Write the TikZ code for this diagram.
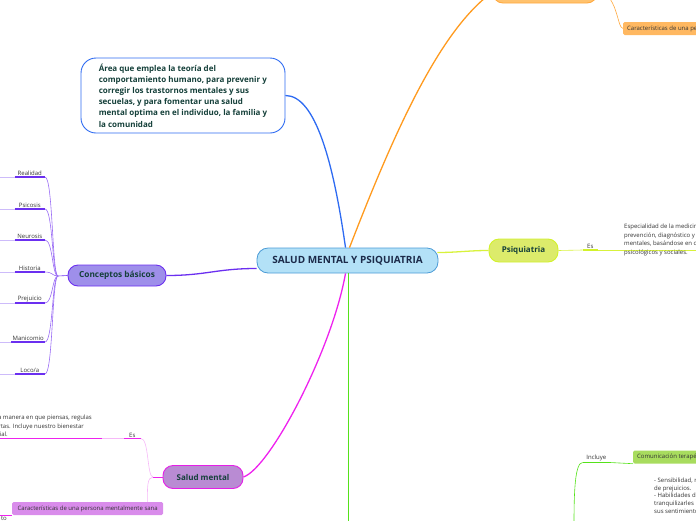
\documentclass[tikz,border=0pt]{standalone}
\usepackage{fontspec}
\setmainfont{Open Sans}
\usetikzlibrary{positioning,calc}
\definecolor{rootfill}{HTML}{B3E1F7}
\definecolor{rootline}{HTML}{4B9BD6}
\definecolor{rootink}{HTML}{1C2B4A}
\definecolor{topicink}{HTML}{15403A}
\definecolor{leafgray}{HTML}{333333}
\definecolor{defblue}{HTML}{2E6BF2}
\definecolor{orline}{HTML}{FF9A1E}
\definecolor{orfill}{HTML}{FFC26E}
\definecolor{orbord}{HTML}{FFA940}
\definecolor{ortag}{HTML}{FFB861}
\definecolor{ygline}{HTML}{D8F23C}
\definecolor{psifill}{HTML}{DCEB6B}
\definecolor{psiline}{HTML}{D2F22A}
\definecolor{purline}{HTML}{6B2FF0}
\definecolor{concfill}{HTML}{9E8FEA}
\definecolor{leafpur}{HTML}{9A6CF5}
\definecolor{stubpur}{HTML}{CDBBFA}
\definecolor{magline}{HTML}{EE22EE}
\definecolor{smfill}{HTML}{B98BD3}
\definecolor{smline}{HTML}{E41FE6}
\definecolor{smtag}{HTML}{D98CEB}
\definecolor{stubpink}{HTML}{F6B8F8}
\definecolor{grline}{HTML}{55E21A}
\definecolor{grtag}{HTML}{A8DC5E}

\begin{document}
\begin{tikzpicture}[
  x=1pt, y=-1pt,
  font=\fontsize{6}{7.5}\selectfont,
  every node/.style={text=leafgray},
  rootbox/.style={rectangle, rounded corners=11pt, draw=rootline, fill=rootfill, line width=0.8pt, minimum width=181pt, minimum height=25pt, font=\fontsize{10}{12}\selectfont\bfseries, text=rootink},
  topic/.style={rectangle, rounded corners=10pt, line width=0.9pt, minimum height=22pt, font=\fontsize{8}{10}\selectfont\bfseries, text=topicink},
  leaf/.style={inner sep=1pt, anchor=south east},
  tag/.style={rectangle, rounded corners=1.5pt, minimum height=13pt, inner xsep=4pt, anchor=west},
  branch/.style={line width=1.3pt},
  twig/.style={line width=0.6pt},
  uline/.style={line width=1.2pt}
]
\useasboundingbox (0,0) rectangle (696,520);
\clip (0,0) rectangle (696,520);
\coordinate (lm) at (0,0);
\coordinate (rm) at (700,0);

% Centre
\node[rootbox] (root) at (347.5,260.5) {SALUD MENTAL Y PSIQUIATRIA};

% Definition (blue)
\node[draw=defblue, line width=0.9pt, rounded corners=15pt, fill=white, minimum width=204pt, minimum height=75pt,
      align=left, font=\fontsize{8}{11.2}\selectfont\bfseries, text=topicink] (area) at (183,95.5)
  {Área que emplea la teoría del\\comportamiento humano, para prevenir y\\corregir los trastornos mentales y sus\\secuelas, y para fomentar una salud\\mental optima en el individuo, la familia y\\la comunidad};
\draw[branch, defblue] ($(root.north)+(-2,0)$) .. controls +(-12,-85) and +(30,0) .. (area.east);

% Orange branch (top, cut off)
\node[topic, fill=orfill, draw=orbord, minimum width=104pt] (caract) at (545,-8) {};
\node[tag, fill=ortag, minimum width=80pt] (persona) at (623,28.5) {Características de una persona};
\draw[branch, orline] ($(root.north)+(2,0)$) .. controls (395,130) and (440,30) .. (caract.west);
\draw[twig, orbord] (caract.east) .. controls +(20,0) and +(-6,0) .. (persona.west);

% Psiquiatria
\node[topic, fill=psifill, draw=psiline, minimum width=69pt, minimum height=23pt] (psiq) at (523.5,250.5) {Psiquiatria};
\draw[branch, ygline] ($(root.east)+(-1,-8)$) .. controls +(20,0) and +(-20,0) .. (psiq.west);
\node[leaf, minimum width=15pt] (psies) at (598,250) {Es};
\draw[twig, ygline] (psiq.east) -- (psies.south west);
\draw[uline, psiline] (psies.south west) -- (psies.south east);
\draw[twig, ygline] (psies.south east) -- (psies.south east -| rm);
\node[anchor=north west, align=left, inner sep=0pt, font=\fontsize{6}{8.6}\selectfont] (psidef) at (624,224)
  {Especialidad de la medicina que se dedica a la\\prevención, diagnóstico y tratamiento de los trastornos\\mentales, basándose en criterios biológicos,\\psicológicos y sociales.};

% Conceptos basicos
\node[topic, fill=concfill, draw=purline, minimum width=98pt, minimum height=21pt, font=\fontsize{8.3}{10}\selectfont\bfseries] (conc) at (117,275.5) {Conceptos básicos};
\draw[branch, purline] ($(root.west)+(0,8)$) .. controls +(-40,0) and +(40,0) .. (conc.east);
\coordinate (chub) at (58,276);
\draw[twig, purline] (conc.west) -- (chub);
\foreach \y/\t [count=\i] in {177/Realidad, 209/Psicosis, 240/Neurosis, 272/Historia, 303/Prejuicio, 342/Manicomio, 374/{Loco/a}}{
  \node[leaf, minimum width=30pt] (cb\i) at (45,\y) {\t};
  \draw[uline, purline] (cb\i.south west) -- (cb\i.south east);
  \draw[twig, stubpur] (cb\i.south west) -- (cb\i.south west -| lm);
  \draw[twig, leafpur] (cb\i.south east) .. controls +(8,0) and +(-6,0) .. (chub);
}

% Salud mental
\node[topic, fill=smfill, draw=smline, minimum width=80pt, minimum height=23pt] (salud) at (203,477) {Salud mental};
\draw[branch, magline] ($(root.south)+(-2,0)$) .. controls (332,350) and (270,468) .. (salud.east);
\coordinate (shub) at (153,477);
\draw[twig, magline] (salud.west) -- (shub);
\node[leaf, minimum width=17pt] (smes) at (141,438.5) {Es};
\draw[uline, magline] (smes.south west) -- (smes.south east);
\draw[twig, stubpink] (smes.south east) .. controls +(8,0) and +(-6,0) .. (shub);
\coordinate (smdefend) at (102,438.5);
\draw[uline, magline] (smes.south west -| lm) -- (smdefend);
\draw[twig, stubpink] (smdefend) -- (smes.south west);
\node[anchor=base east, inner sep=0pt] (smdef1) at (92,419) {Es la manera en que piensas, regulas};
\node[anchor=base east, inner sep=0pt] (smdef2) at (84,428) {tus emociones y te comportas. Incluye nuestro bienestar};
\node[anchor=base east, inner sep=0pt] (smdef3) at (8,436.5) {emocional, psicológico y social.};
\node[tag, fill=smtag, minimum width=151pt] (sana) at (12,508.5) {Características de una persona mentalmente sana};
\draw[twig, stubpink] (shub) .. controls +(-6,0) and +(0,-14) .. ($(sana.north east)+(-16,0)$);
\draw[twig, magline] (sana.south west) -- (sana.south west -| lm);
\node[anchor=base east, inner sep=0pt] (sanato) at (7,520) {to};

% Green branch
\coordinate (gend) at (348.5,525);
\draw[branch, grline] ($(root.south)+(1,0)$) -- (gend);
\node[leaf, minimum width=27pt] (incl) at (610,462.5) {Incluye};
\node[tag, fill=grtag, minimum width=80pt] (comu) at (633,457) {Comunicación terapéutica};
\draw[uline, grline] (incl.south west) -- (incl.south east);
\draw[twig, grline] (incl.south east) -- (comu.south west);
\coordinate (gcur) at (574,525);
\draw[twig, grline] (incl.south west) .. controls +(-8,0) and +(0,-30) .. (gcur);
\node[anchor=north west, align=left, inner sep=0pt, font=\fontsize{6}{7.6}\selectfont] (comutxt) at (654,478)
  {- Sensibilidad, respeto\\de prejuicios.\\- Habilidades de\\tranquilizarles\\sus sentimientos};
\end{tikzpicture}
\end{document}
